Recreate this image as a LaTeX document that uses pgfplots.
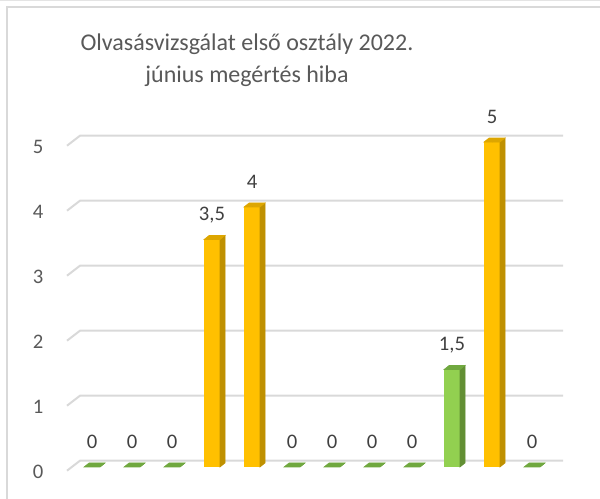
\documentclass[border=0pt]{standalone}
\usepackage{pgfplots}
\pgfplotsset{compat=1.18}
\usepackage{fontspec}
\setmainfont{Carlito}
\definecolor{gridcol}{HTML}{D9D9D9}
\definecolor{txtcol}{HTML}{595959}
\definecolor{lblcol}{HTML}{404040}
\definecolor{orfront}{HTML}{FFC000}
\definecolor{orside}{HTML}{BF9000}
\definecolor{ortop}{HTML}{DDA600}
\definecolor{grfront}{HTML}{92D050}
\definecolor{grside}{HTML}{628F34}
\definecolor{grtop}{HTML}{70A83F}
\pgfplotstableread{
x y
3 3.5
4 4
10 5
}\orangedata
\pgfplotstableread{
x y
0 0
1 0
2 0
5 0
6 0
7 0
8 0
9 1.5
11 0
}\greendata
\begin{document}
\begin{tikzpicture}
\useasboundingbox (0,0) rectangle (450pt,374.25pt);
% chart area border
\draw[color=gridcol!70, line width=0.75pt] (0,373.6pt) -- (450pt,373.6pt);
\draw[color=gridcol, line width=1.2pt] (5.1pt,-2pt) -- (5.1pt,369pt) -- (452pt,369pt);
% title
\node[font=\fontsize{18pt}{22pt}\selectfont, text=txtcol, anchor=center] at (185.25pt,341.25pt) {Olvasásvizsgálat első osztály 2022.};
\node[font=\fontsize{18pt}{22pt}\selectfont, text=txtcol, anchor=center] at (185.25pt,317.25pt) {június megértés hiba};
\begin{axis}[
  at={(51pt,24pt)}, anchor=south west,
  scale only axis, width=366pt, height=243.75pt,
  xmin=-0.6, xmax=11.6, ymin=0, ymax=5,
  clip=false,
  axis line style={draw=none},
  major tick length=0pt,
  xtick=\empty,
  ytick={0,1,2,3,4,5},
  /pgf/number format/assume math mode=true,
  /pgf/number format/use comma,
  yticklabel style={font=\fontsize{15.5pt}{18pt}\selectfont, text=txtcol, anchor=center, xshift=-22.5pt, yshift=-3.4pt},
]
% gridlines with 3D perspective
\draw[gridcol, line width=1.5pt] (axis cs:-0.625,-0.057) -- (axis cs:-0.3,0.097) -- (axis cs:11.775,0.097);
\draw[gridcol, line width=1.5pt] (axis cs:-0.625,0.943) -- (axis cs:-0.3,1.097) -- (axis cs:11.775,1.097);
\draw[gridcol, line width=1.5pt] (axis cs:-0.625,1.943) -- (axis cs:-0.3,2.097) -- (axis cs:11.775,2.097);
\draw[gridcol, line width=1.5pt] (axis cs:-0.625,2.943) -- (axis cs:-0.3,3.097) -- (axis cs:11.775,3.097);
\draw[gridcol, line width=1.5pt] (axis cs:-0.625,3.943) -- (axis cs:-0.3,4.097) -- (axis cs:11.775,4.097);
\draw[gridcol, line width=1.5pt] (axis cs:-0.625,4.943) -- (axis cs:-0.3,5.097) -- (axis cs:11.775,5.097);
% front faces
\addplot[ybar, bar width=12pt, bar shift=0pt, fill=orfront, draw=none,
  nodes near coords, point meta=y,
  every node near coord/.append style={font=\fontsize{15.5pt}{18pt}\selectfont, text=lblcol, anchor=center, yshift=18.5pt}]
  table[x=x,y=y] {\orangedata};
\addplot[ybar, bar width=12pt, bar shift=0pt, fill=grfront, draw=none,
  nodes near coords, point meta=y,
  every node near coord/.append style={font=\fontsize{15.5pt}{18pt}\selectfont, text=lblcol, anchor=center, yshift=18.5pt}]
  table[x=x,y=y] {\greendata};
% side and top faces
\addplot[scatter, only marks, point meta=y,
  mark=*, mark size=0pt, mark options={draw=none, fill=none},
  visualization depends on={\thisrow{y} \as \val},
  scatter/@pre marker code/.code={%
    \pgfmathsetmacro{\h}{\val*48.75}%
    \fill[orside] (6pt,0pt) -- (9.75pt,3pt) -- (9.75pt,3pt-\h pt) -- (6pt,0pt-\h pt) -- cycle;
    \fill[ortop] (-6pt,0pt) -- (6pt,0pt) -- (9.75pt,3pt) -- (-2.25pt,3pt) -- cycle;
  },
  scatter/@post marker code/.code={}
] table[x=x,y=y] {\orangedata};
\addplot[scatter, only marks, point meta=y,
  mark=*, mark size=0pt, mark options={draw=none, fill=none},
  visualization depends on={\thisrow{y} \as \val},
  scatter/@pre marker code/.code={%
    \pgfmathsetmacro{\h}{\val*48.75}%
    \fill[grside] (6pt,0pt) -- (9.75pt,3pt) -- (9.75pt,3pt-\h pt) -- (6pt,0pt-\h pt) -- cycle;
    \fill[grtop] (-6pt,0pt) -- (6pt,0pt) -- (9.75pt,3pt) -- (-2.25pt,3pt) -- cycle;
  },
  scatter/@post marker code/.code={}
] table[x=x,y=y] {\greendata};
\end{axis}
\end{tikzpicture}
\end{document}
